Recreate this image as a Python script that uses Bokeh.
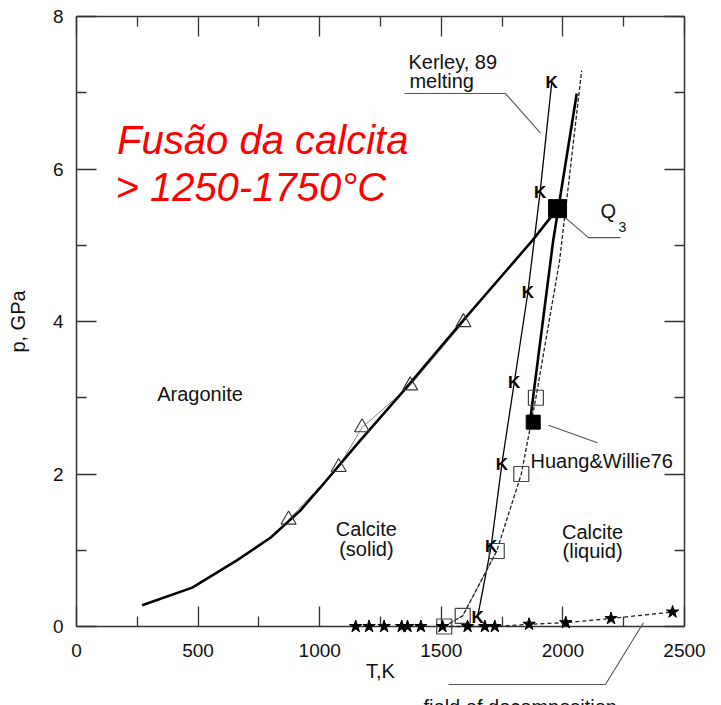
from bokeh.plotting import figure
from bokeh.models import LinearAxis, Label, Range1d, FixedTicker
from bokeh.core.properties import value
from bokeh.embed import file_html
from bokeh.resources import INLINE

# ---------------- data (T in K, p in GPa) ----------------
x_ticks = [0, 500, 1000, 1500, 2000, 2500]
x_minor = [250, 750, 1250, 1750, 2250]
y_ticks = [0, 2, 4, 6, 8]
y_minor = [1, 3, 5, 7]

arag_T = [270, 476, 661, 800, 920, 1002, 1167, 1345, 1578, 1874, 1978]
arag_p = [0.28, 0.51, 0.87, 1.17, 1.52, 1.82, 2.44, 3.09, 3.97, 5.06, 5.48]

tri_T = [872, 1078, 1174, 1372, 1591]
tri_p = [1.40, 2.09, 2.61, 3.16, 3.99]

kerley_T = [1649, 1705, 1749, 1800, 1856, 1906, 1954]
kerley_p = [0.12, 1.05, 2.13, 3.20, 4.38, 5.69, 7.13]

melt_T = [1862, 1960, 2057]
melt_p = [2.62, 5.06, 6.99]

exp_T = [1512, 1588, 1728, 1829, 1889, 1986, 2025, 2077]
exp_p = [0.0, 0.14, 0.99, 2.0, 3.0, 4.79, 5.85, 7.29]

sq_T = [1512, 1588, 1728, 1829, 1889]
sq_p = [0.0, 0.14, 0.99, 2.0, 3.0]

q3_T = [1978]
q3_p = [5.48]
hw_T = [1878]
hw_p = [2.68]

star_T = [1148, 1203, 1265, 1337, 1361, 1416, 1505, 1608, 1679, 1720, 1861, 2012, 2198, 2451]
star_p = [0, 0, 0, 0, 0, 0, 0, 0, 0, 0, 0.03, 0.05, 0.105, 0.19]

decomp_T = [1505, 1720, 1861, 2012, 2198, 2451]
decomp_p = [0, 0, 0.03, 0.05, 0.105, 0.19]

# leader lines
kerley_lead_T = [1349, 1764, 1908]
kerley_lead_p = [6.99, 6.99, 6.47]
q3_lead_T = [2011, 2105, 2237]
q3_lead_p = [5.36, 5.10, 5.10]
hw_lead_T = [1941, 2142]
hw_lead_p = [2.64, 2.41]
dec_lead_T = [1530, 2175, 2331]
dec_lead_p = [-0.76, -0.76, 0.05]

FONT = "Liberation Sans"
PX_PER_GPA = 610 / 8.0

p = figure(width=721, height=705, x_range=Range1d(0, 2500), y_range=Range1d(0, 8),
           output_backend="svg", toolbar_location=None,
           min_border_left=76, min_border_right=37, min_border_top=16, min_border_bottom=79)
p.xgrid.visible = False
p.ygrid.visible = False
p.outline_line_color = None
p.background_fill_color = "white"
p.border_fill_color = "white"

xt = FixedTicker(ticks=x_ticks, minor_ticks=x_minor)
yt = FixedTicker(ticks=y_ticks, minor_ticks=y_minor)


def style_axis(ax, labels=True):
    ax.axis_line_color = "#333333"
    ax.axis_line_width = 1.5
    ax.major_tick_line_color = "#333333"
    ax.minor_tick_line_color = "#333333"
    ax.major_tick_line_width = 1.3
    ax.minor_tick_line_width = 1.3
    ax.major_tick_in = 20
    ax.major_tick_out = 0
    ax.minor_tick_in = 10
    ax.minor_tick_out = 0
    if labels:
        ax.major_label_text_font = FONT
        ax.major_label_text_font_size = "19px"
        ax.major_label_text_color = "#111111"
        ax.axis_label_text_font = FONT
        ax.axis_label_text_font_size = "20px"
        ax.axis_label_text_font_style = "normal"
        ax.axis_label_text_color = "#111111"
    else:
        ax.major_label_text_color = None
        ax.major_label_standoff = 0


xa = p.xaxis[0]
xa.ticker = xt
style_axis(xa)
xa.axis_label = "T,K"
xa.major_label_standoff = 17
xa.axis_label_standoff = 0

ya = p.yaxis[0]
ya.ticker = yt
style_axis(ya)
ya.axis_label = "p, GPa"
ya.major_label_standoff = 13
ya.major_label_orientation = "horizontal"
ya.axis_label_standoff = 21

top = LinearAxis(ticker=xt)
style_axis(top, labels=False)
p.add_layout(top, "above")
right = LinearAxis(ticker=yt)
style_axis(right, labels=False)
p.add_layout(right, "right")

# thin gray connectors
p.line(tri_T, tri_p, line_color="#888888", line_width=1)
p.line(sq_T[:3], sq_p[:3], line_color="#888888", line_width=1, level="overlay")

# aragonite / calcite boundary
p.line(arag_T, arag_p, line_color="black", line_width=2.6)
# melting curve (bold)
p.line(melt_T, melt_p, line_color="black", line_width=2.6)
# Kerley 89 melting
p.line(kerley_T, kerley_p, line_color="black", line_width=1.3)
# experimental dashed melting
p.line(exp_T, exp_p, line_color="#222222", line_width=1.3, line_dash="4 2", level="overlay")
# decomposition
p.line(decomp_T, decomp_p, line_color="#222222", line_width=1.3, line_dash="4 3", level="overlay")

# leaders
for lt, lp in [(kerley_lead_T, kerley_lead_p), (q3_lead_T, q3_lead_p),
               (hw_lead_T, hw_lead_p), (dec_lead_T, dec_lead_p)]:
    p.line(lt, lp, line_color="#555555", line_width=1.1, level="overlay")

# markers
p.scatter(tri_T, tri_p, marker="triangle", size=15, fill_color=None,
          line_color="#333333", line_width=1.1, level="overlay")
p.scatter(sq_T, sq_p, marker="square", size=15, fill_color=None,
          line_color="#444444", line_width=1.2, level="overlay")
p.scatter(q3_T, q3_p, marker="square", size=18, fill_color="black",
          line_color="black", level="overlay")
p.scatter(hw_T, hw_p, marker="square", size=14, fill_color="black",
          line_color="black", level="overlay")
p.scatter(star_T, star_p, marker="star", size=13, fill_color="black",
          line_color="black", level="overlay")
p.text(kerley_T, kerley_p, text=["K"] * len(kerley_T), text_font=value(FONT),
       text_font_style="bold", text_font_size="17px", text_align="center",
       text_baseline="middle", text_color="black", level="overlay")


def lab(x, y, t, fs=20, align="left", color="#111111", style="normal"):
    # y is the desired baseline; compensate the renderer's baseline offset
    yy = y + 0.36 * fs / PX_PER_GPA
    p.add_layout(Label(x=x, y=yy, text=t, text_font=FONT, text_font_size=f"{fs}px",
                       text_align=align, text_baseline="alphabetic",
                       text_color=color, text_font_style=style))


lab(1365, 7.31, "Kerley, 89")
lab(1369, 7.06, "melting")
lab(332, 2.96, "Aragonite")
lab(1192, 1.19, "Calcite", align="center")
lab(1192, 0.92, "(solid)", align="center")
lab(2122, 1.15, "Calcite", align="center")
lab(2122, 0.90, "(liquid)", align="center")
lab(1867, 2.07, "Huang&Willie76")
lab(2155, 5.35, "Q")
lab(2229, 5.17, "3", fs=14)

# text below the axis (drawn as an overlay glyph so it is not clipped to the frame)
p.text([1427], [-1.06], text=["field of decomposition"], text_font=value(FONT),
       text_font_size="20px", text_align="left", text_baseline="alphabetic",
       text_color="#111111", level="overlay")

lab(167, 6.19, "Fusão da calcita", fs=40, color="#ff0000", style="italic")
lab(160, 5.57, "> 1250-1750°C", fs=40, color="#ff0000", style="italic")

open("out.html", "w").write(file_html(p, INLINE))
